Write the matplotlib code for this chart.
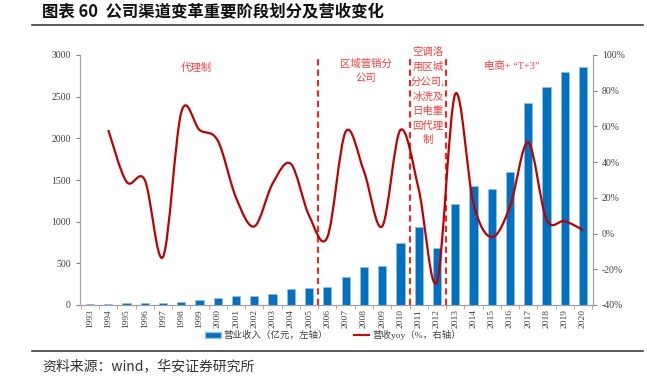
import matplotlib
matplotlib.use("Agg")
import matplotlib.pyplot as plt
from matplotlib.path import Path
from matplotlib.patches import PathPatch, Patch
from matplotlib.lines import Line2D
from matplotlib.ticker import FuncFormatter, MultipleLocator
import numpy as np

plt.rcParams['font.family'] = ['Liberation Serif', 'Noto Sans CJK SC']

# data
years = list(range(1993, 2021))
revenue = [9, 15, 20, 28, 22, 36, 60, 86, 105, 110, 138, 192, 210, 212, 332,
           453, 470, 741, 931, 680, 1213, 1423, 1393, 1598, 2419, 2618, 2794, 2857]
yoy_years = list(range(1994, 2021))
yoy = [58, 29, 30, -13, 68, 58, 52, 20, 4, 28, 39, 10, -2, 57,
       35, 4, 58, 25, -27, 78, 17, -2, 15, 51, 8, 7, 2]
split_years = [2005.5, 2010.5, 2012.5]

stage_labels = ["代理制", "区域营销分\n公司", "空调洛\n用区城\n分公司,\n冰洗及\n日电重\n回代理\n制", "电商+ “T+3”"]
stage_pos = [(1998.8, 93), (2008.1, 91), (2011.5, 77), (2016.1, 94)]

bar_color = '#0070C0'
line_color = '#C00000'
red_txt = '#FF3B3B'

W, H = 647, 382
fig = plt.figure(figsize=(W / 100, H / 100), dpi=100)
ax = fig.add_axes([80 / W, 1 - 305 / H, (593 - 80) / W, 250 / H])
ax2 = ax.twinx()

x = np.arange(len(years))
ax.bar(x, revenue, width=0.45, color=bar_color, edgecolor='#9DC3E6', linewidth=0.4, zorder=2)
ax.set_xlim(-0.55, len(years) - 0.45)
ax.set_ylim(0, 3000)
ax.yaxis.set_major_locator(MultipleLocator(500))
ax.set_xticks(x)
ax.set_xticklabels([str(y) for y in years], rotation=90, fontsize=6.8, color='#404040')
ax.set_xticks(np.arange(-0.5, len(years), 1), minor=True)
ax.tick_params(axis='x', which='major', length=0, pad=3)
ax.tick_params(axis='x', which='minor', length=3, color='#A0A0A0')
ax.tick_params(axis='y', labelsize=7, length=3, color='#808080', labelcolor='#404040')

ax2.set_ylim(-40, 100)
ax2.yaxis.set_major_locator(MultipleLocator(20))
ax2.yaxis.set_major_formatter(FuncFormatter(lambda v, p: f"{v:.0f}%"))
ax2.tick_params(axis='y', labelsize=7, length=3, color='#808080', labelcolor='#404040')

for a in (ax, ax2):
    a.spines['top'].set_visible(False)
    for s in ('left', 'right', 'bottom'):
        a.spines[s].set_color('#A0A0A0')
        a.spines[s].set_linewidth(0.8)

# smoothed yoy line (Excel-style bezier through the data points)
px = np.array([years.index(y) for y in yoy_years], dtype=float)
py = np.array(yoy, dtype=float)
verts = [(px[0], py[0])]
codes = [Path.MOVETO]
n = len(px)
for i in range(n - 1):
    p0 = np.array([px[max(i - 1, 0)], py[max(i - 1, 0)]])
    p1 = np.array([px[i], py[i]])
    p2 = np.array([px[i + 1], py[i + 1]])
    p3 = np.array([px[min(i + 2, n - 1)], py[min(i + 2, n - 1)]])
    c1 = p1 + (p2 - p0) / 6
    c2 = p2 - (p3 - p1) / 6
    verts += [tuple(c1), tuple(c2), tuple(p2)]
    codes += [Path.CURVE4] * 3
ax2.add_patch(PathPatch(Path(verts, codes), fill=False, edgecolor=line_color, lw=1.6, zorder=4))

# stage dividers
for sy in split_years:
    xi = sy - years[0]
    ax.axvline(xi, color='#FF2020', lw=1.5, ls=(0, (3, 2)), zorder=3)

for lab, (sx, sy) in zip(stage_labels, stage_pos):
    ax2.text(sx - years[0], sy, lab, color=red_txt, fontsize=7.5, ha='center', va='center',
             linespacing=1.55, zorder=5)

# legend
handles = [Patch(facecolor=bar_color, edgecolor='#9DC3E6'),
           Line2D([0], [0], color='#E00000', lw=1.5)]
labels = ["营业收入（亿元，左轴）", "营收yoy（%，右轴）"]
fig.legend(handles, labels, loc='center', bbox_to_anchor=(0.515, 1 - 335 / H), ncol=2,
           frameon=False, fontsize=6.8, handlelength=1.6, handleheight=0.6,
           columnspacing=2.8, handletextpad=0.3, labelcolor='#404040')

# title, rules and source
fig.text(42 / W, 1 - 12 / H, "图表 60  公司渠道变革重要阶段划分及营收变化", fontsize=11.8,
         fontweight='bold', family='Noto Sans CJK SC', va='center', ha='left', color='#111111')
fig.add_artist(Line2D([32 / W, 643 / W], [1 - 24.5 / H] * 2, color='#404040', lw=1.2))
fig.add_artist(Line2D([32 / W, 643 / W], [1 - 351 / H] * 2, color='#404040', lw=1.2))
fig.text(42 / W, 1 - 366 / H, "资料来源：wind，华安证券研究所", fontsize=10,
         family='Noto Sans CJK SC', va='center', ha='left', color='#333333')

fig.savefig('out.png', dpi=100)
